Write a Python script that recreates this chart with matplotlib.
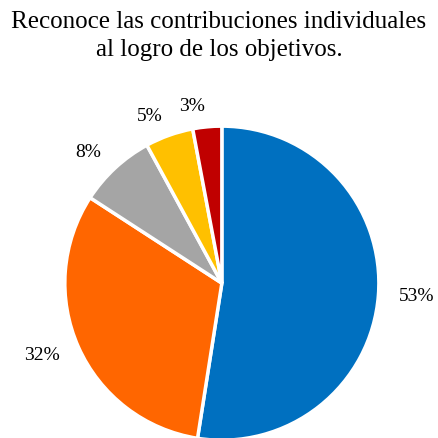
import matplotlib
matplotlib.use("Agg")
import matplotlib.pyplot as plt

title = "Reconoce las contribuciones individuales\nal logro de los objetivos."
labels = ["53%", "32%", "8%", "5%", "3%"]
values = [53, 32, 8, 5, 3]
colors = ["#0070C0", "#FF6600", "#A5A5A5", "#FFC000", "#C00000"]

plt.rcParams["font.family"] = ["Liberation Serif", "DejaVu Serif"]

fig = plt.figure(figsize=(4.38, 4.38), dpi=100)
fig.text(0.5, 0.975, title, ha="center", va="top", fontsize=18, linespacing=1.35)

ax = fig.add_axes([0.148, -0.005, 0.717, 0.717])
wedges, texts = ax.pie(
    values,
    colors=colors,
    labels=labels,
    startangle=90,
    counterclock=False,
    labeldistance=1.13,
    wedgeprops=dict(edgecolor="white", linewidth=2.5),
    textprops=dict(fontsize=14),
)
ax.set_xlim(-1, 1)
ax.set_ylim(-1, 1)
ax.set_aspect("equal")
for t in texts:
    t.set_clip_on(False)
fig.savefig("out.png", dpi=100)
